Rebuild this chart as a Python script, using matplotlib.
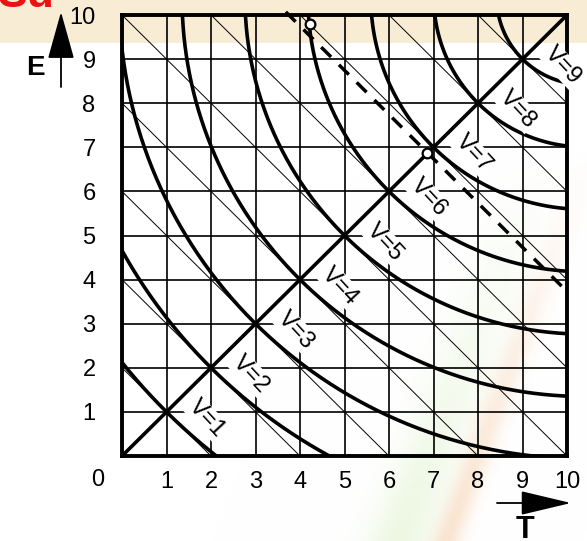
import numpy as np
import matplotlib.pyplot as plt

plt.rcParams['font.family'] = ['Liberation Sans', 'DejaVu Sans']

# values
levels = [1, 2, 3, 4, 5, 6, 7, 8, 9]          # V curves, each passes (V, V)
center = 10.4                                  # curves are arcs round (center, center)
thin_sums = [2, 4, 6, 8, 10, 12, 14, 16, 18]   # thin diagonals T + E = const
ticks = list(range(1, 11))
dash_T = [3.68, 10.0]
dash_E = [10.07, 3.73]
mark_T = [4.22, 6.85]
mark_E = [9.80, 6.88]

W, H = 587, 541
fig = plt.figure(figsize=(W / 100, H / 100), dpi=100)
fig.patch.set_facecolor('white')

# background: beige band on top and a soft orange/green streak
bg = fig.add_axes([0, 0, 1, 1], zorder=-10)
bg.axis('off')
yy, xx = np.mgrid[0:H, 0:W]
img = np.ones((H, W, 3))
img[yy < 43] = np.array([248, 236, 213]) / 255
p0 = np.array([590.0, 150.0])
d = np.array([445.0, 541.0]) - p0
d /= np.hypot(*d)
s = -((xx - p0[0]) * d[1] - (yy - p0[1]) * d[0])
along = np.clip((yy - 150) / 390, 0, 1)
orange = np.exp(-(s / 14) ** 2) * along
green = np.exp(-((s - 45) / 30) ** 2) * along
for k, (oc, gc) in enumerate(zip([248, 205, 170], [215, 238, 190])):
    img[..., k] = img[..., k] * (1 - 0.55 * orange) + 0.55 * orange * oc / 255
    img[..., k] = img[..., k] * (1 - 0.45 * green) + 0.45 * green * gc / 255
bg.imshow(img, extent=[0, 1, 0, 1], aspect='auto')
bg.set_xlim(0, 1)
bg.set_ylim(0, 1)

ax = fig.add_axes([122 / W, 85 / H, 445 / W, 441 / H])
ax.set_facecolor('none')
ax.set_xlim(0, 10)
ax.set_ylim(0, 10)

for v in ticks[:-1]:
    ax.axhline(v, color='black', lw=1.2, zorder=1)
    ax.axvline(v, color='black', lw=1.2, zorder=1)

for sm in thin_sums:
    ax.plot([0, sm], [sm, 0], color='black', lw=0.7, zorder=1)

ax.plot([0, 10], [0, 10], color='black', lw=2.6, zorder=2)

th = np.linspace(np.pi, 1.5 * np.pi, 400)
for v in levels:
    r = np.sqrt(2) * (center - v)
    ax.plot(center + r * np.cos(th), center + r * np.sin(th),
            color='black', lw=2.6, zorder=2)

ax.plot(dash_T, dash_E, color='black', lw=2.5, ls=(0, (4, 3.2)),
        zorder=3, clip_on=False)
ax.plot(mark_T, mark_E, 'o', ms=7, mfc='white', mec='black', mew=1.6,
        zorder=4, clip_on=False)

for v in levels:
    ax.text(v + 0.9, v - 0.15, 'V=%d' % v, rotation=-47, fontsize=17,
            ha='center', va='center', rotation_mode='anchor', zorder=5,
            bbox=dict(facecolor='white', edgecolor='none', pad=0.6))

for sp in ax.spines.values():
    sp.set_linewidth(2.8)

ax.set_xticks(ticks)
ax.set_yticks(ticks)
ax.set_xticklabels([str(t) for t in ticks])
ax.set_yticklabels([str(t) for t in ticks])
ax.tick_params(axis='both', length=0, labelsize=17)
ax.tick_params(axis='x', pad=11)
ax.tick_params(axis='y', pad=19)
ax.text(-0.54, -0.54, '0', fontsize=17, ha='center', va='center', clip_on=False)

# axis names with arrows
fig.text(35 / W, 1 - 68 / H, 'E', fontsize=20, fontweight='bold',
         ha='center', va='center')
ax.annotate('', xy=(61, H - 12), xycoords='figure pixels',
            xytext=(61, H - 87), textcoords='figure pixels',
            arrowprops=dict(arrowstyle='-|>,head_length=1.5,head_width=0.42',
                            lw=1.3, color='black', mutation_scale=20,
                            shrinkA=0, shrinkB=0))
fig.text(525 / W, 1 - 515 / H, 'T', fontsize=22, fontweight='bold',
         ha='center', va='top')
ax.annotate('', xy=(571, H - 503), xycoords='figure pixels',
            xytext=(497, H - 503), textcoords='figure pixels',
            arrowprops=dict(arrowstyle='-|>,head_length=1.6,head_width=0.38',
                            lw=1.3, color='black', mutation_scale=20,
                            shrinkA=0, shrinkB=0))

fig.text(-0.004, 1 - 7 / H, 'Su', fontsize=32, fontweight='bold',
         color='#ee1111', ha='left', va='baseline')

fig.savefig('out.png', dpi=100)
